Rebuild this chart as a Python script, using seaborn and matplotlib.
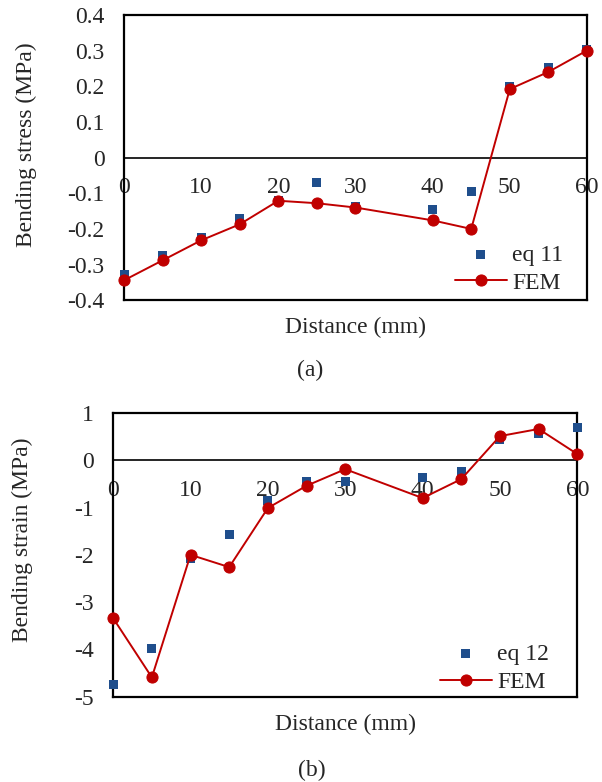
import pandas as pd
import seaborn as sns
from matplotlib import pyplot as plt

# distance along the section (mm)
distance = [0, 5, 10, 15, 20, 25, 30, 40, 45, 50, 55, 60]

# (a) bending stress
stress_eq11 = [-0.328, -0.275, -0.223, -0.171, -0.121, -0.069, -0.138, -0.146, -0.094, 0.198, 0.252, 0.303]
stress_fem = [-0.344, -0.288, -0.232, -0.187, -0.121, -0.128, -0.140, -0.176, -0.200, 0.192, 0.240, 0.300]

# (b) bending strain
strain_eq12 = [-4.75, -3.99, -2.07, -1.57, -0.86, -0.46, -0.44, -0.36, -0.23, 0.44, 0.57, 0.70]
strain_fem = [-3.34, -4.59, -2.00, -2.26, -1.01, -0.54, -0.19, -0.80, -0.40, 0.51, 0.66, 0.13]

stress_ticks = [-0.4, -0.3, -0.2, -0.1, 0, 0.1, 0.2, 0.3, 0.4]
stress_ticklabels = ['-0.4', '-0.3', '-0.2', '-0.1', '0', '0.1', '0.2', '0.3', '0.4']
strain_ticks = [-5, -4, -3, -2, -1, 0, 1]
x_ticks = [0, 10, 20, 30, 40, 50, 60]

BLUE = '#1F4E8C'
RED = '#C00000'
FS = 17

sns.set_style('white')
plt.rcParams['font.family'] = ['Liberation Serif', 'DejaVu Serif']
plt.rcParams['font.size'] = FS


def draw_panel(ax, eq_vals, fem_vals, eq_label, ylabel, ylim, yticks, yticklabels,
               ylabel_x, ylabel_y, legend_anchor):
    df = pd.DataFrame({'Distance': distance, 'eq': eq_vals, 'FEM': fem_vals})
    sns.scatterplot(data=df, x='Distance', y='eq', marker='s', s=42, color=BLUE,
                    edgecolor='none', label=eq_label, ax=ax, zorder=3, clip_on=False)
    sns.lineplot(data=df, x='Distance', y='FEM', marker='o', markersize=8, color=RED,
                 markeredgecolor=RED, linewidth=1.4, label='FEM', ax=ax, zorder=4, clip_on=False)
    ax.set_xlim(0, 60)
    ax.set_ylim(*ylim)
    ax.set_yticks(yticks)
    ax.set_yticklabels(yticklabels)
    ax.tick_params(axis='y', length=0, pad=14, labelsize=FS)
    ax.set_xticks([])
    for sp in ax.spines.values():
        sp.set_visible(True)
        sp.set_color('black')
        sp.set_linewidth(1.6)
    # x axis crossing at zero, as in the spreadsheet chart
    zero_pos = (0 - ylim[0]) / (ylim[1] - ylim[0])
    sec = ax.secondary_xaxis(zero_pos)
    sec.set_alignment('bottom')
    sec.set_xticks(x_ticks)
    sec.tick_params(length=0, pad=14, labelsize=FS)
    sec.spines['bottom'].set_linewidth(1.2)
    sec.spines['bottom'].set_color('black')
    ax.set_xlabel('Distance (mm)', fontsize=FS, labelpad=12)
    ax.set_ylabel(ylabel, fontsize=FS)
    ax.yaxis.set_label_coords(ylabel_x, ylabel_y)
    ax.legend(loc='lower right', bbox_to_anchor=legend_anchor, frameon=False, fontsize=FS,
              handlelength=2.2, handletextpad=0.25, labelspacing=0.28, borderaxespad=0.0)
    ax.grid(False)


fig = plt.figure(figsize=(6.02, 7.82), dpi=100)
ax1 = fig.add_axes([0.206, 0.616, 0.769, 0.365])
ax2 = fig.add_axes([0.188, 0.109, 0.771, 0.363])

draw_panel(ax1, stress_eq11, stress_fem, 'eq 11', 'Bending stress (MPa)', (-0.4, 0.4),
           stress_ticks, stress_ticklabels, -0.188, 0.544, (0.97, -0.01))
draw_panel(ax2, strain_eq12, strain_fem, 'eq 12', 'Bending strain (MPa)', (-5, 1),
           strain_ticks, [str(t) for t in strain_ticks], -0.172, 0.553, (0.96, -0.02))

fig.text(0.515, 1 - 370 / 782, '(a)', ha='center', va='center', fontsize=FS)
fig.text(0.518, 1 - 770 / 782, '(b)', ha='center', va='center', fontsize=FS)

fig.savefig('out.png', dpi=100)
